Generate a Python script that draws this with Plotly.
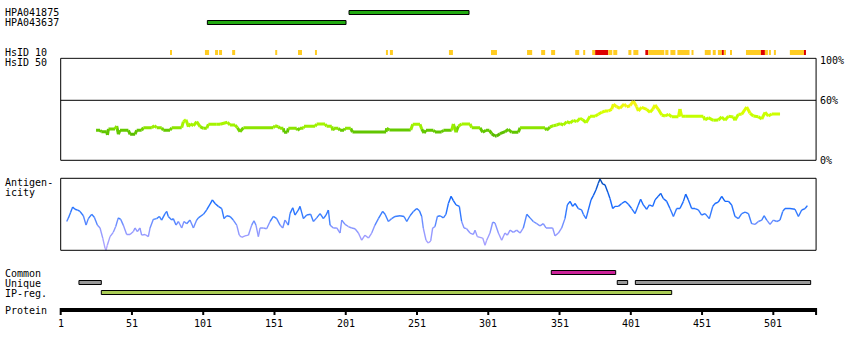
import plotly.graph_objects as go

W, H = 850, 350
PROTEIN_LENGTH = 531
X_RANGE = [-41.59, 554.8]  # residue units spanning the full canvas width
FONT = "DejaVu Sans Mono"

# ---------------- data ----------------
ab_names = ["HPA041875", "HPA043637"]
ab_start = [203.3, 103.9]
ab_end = [287.5, 201.2]

hs10_start = [77.7, 102.2, 109.3, 112.1, 121.3, 151.5, 167.5, 179.4, 229.2, 232.0,
              273.4, 302.9, 328.2, 338.1, 345.1, 362.0, 367.6, 373.9, 376.0, 385.2,
              388.7, 399.3, 402.8, 411.2, 413.3, 425.2, 428.8, 433.7, 443.6, 452.9,
              458.5, 462.1, 464.9, 466.3, 470.6, 481.8, 492.3, 495.1, 497.9, 501.4,
              512.6, 515.5, 522.5]
hs10_end = [79.1, 105.1, 111.4, 114.2, 123.4, 152.9, 170.3, 180.8, 230.6, 234.1,
            276.2, 307.1, 331.8, 340.9, 347.9, 364.8, 369.0, 376.0, 385.2, 388.0,
            391.5, 401.4, 406.3, 413.3, 424.5, 427.4, 432.3, 442.2, 445.0, 457.1,
            460.6, 464.9, 466.3, 467.8, 472.0, 492.3, 495.1, 497.2, 499.3, 502.8,
            515.5, 522.5, 523.9]
hs10_level = ["y", "y", "y", "y", "y", "y", "y", "y", "y", "y",
              "y", "y", "y", "y", "y", "y", "y", "y", "r", "y",
              "y", "y", "y", "r", "y", "y", "y", "y", "y", "y",
              "y", "y", "r", "y", "y", "y", "r", "y", "y", "y",
              "y", "y", "r"]

# identity (HsID 50) in percent
iden_res = [25.8, 28.6, 29.5, 33.3, 33.8, 34.5, 39.1, 40.3, 41.5, 42.6, 48.5, 49.7, 53.2,
            54.3, 57.8, 59.0, 64.9, 66.7, 68.4, 71.9, 73.0, 77.7, 78.9, 85.9, 87.1, 88.9,
            90.6, 92.2, 94.1, 96.4, 98.8, 101.1, 103.5, 104.6, 110.5, 112.8, 118.0, 119.8,
            123.3, 125.0, 126.8, 129.2, 150.2, 151.4, 153.7, 154.9, 157.2, 157.7, 160.0,
            160.7, 166.6, 167.1, 168.9, 171.3, 171.7, 179.5, 180.6, 186.5, 187.6, 191.2,
            191.9, 192.8, 195.8, 197.0, 199.8, 200.5, 204.5, 205.7, 229.3, 229.7, 231.6,
            246.6, 248.0, 253.1, 254.3, 255.9, 257.3, 262.5, 263.6, 268.3, 269.5, 275.3,
            276.5, 278.4, 280.0, 282.3, 288.2, 289.4, 295.2, 297.1, 299.4, 301.8, 303.4,
            305.7, 306.9, 309.2, 312.8, 315.1, 317.4, 322.1, 323.3, 340.8, 342.0, 344.3,
            346.7, 349.0, 351.4, 353.7, 356.0, 358.4, 360.7, 363.0, 365.4, 367.2, 369.6,
            372.4, 375.9, 378.2, 380.6, 382.9, 385.3, 387.6, 388.8, 391.1, 393.4, 396.3,
            398.1, 400.5, 402.8, 405.1, 406.3, 408.6, 412.2, 414.5, 416.4, 418.0, 420.3,
            422.7, 425.0, 427.4, 429.7, 434.4, 435.5, 436.7, 439.1, 451.9, 453.1, 455.4,
            458.9, 462.4, 464.8, 467.1, 469.5, 473.0, 474.1, 476.5, 478.8, 482.3, 484.7,
            487.0, 490.5, 492.9, 495.2, 497.5, 499.9, 505.7]
iden_val = [30, 30, 28.6, 28.6, 25.3, 31.3, 31.3, 34.3, 26, 30, 30, 26, 26,
            30, 30, 32.6, 32.6, 34.6, 32.6, 32.6, 30, 30, 32.6, 32.6, 38.6, 40.6,
            33.6, 36.6, 34.6, 38.6, 33.6, 32, 32, 36, 36, 36, 38, 35.3,
            35.3, 32.6, 28.6, 32.6, 32.6, 34.6, 33.6, 32, 32, 28, 28,
            32, 32, 30, 32, 32, 34, 34, 36.3, 36.3, 34, 34,
            30, 32, 32, 30, 30, 32, 32, 28.3, 28.3, 32, 30.3,
            30.3, 36, 36, 31.3, 27.3, 30, 30, 28.3, 28.3, 30, 30,
            36.3, 28, 34, 36.3, 36.3, 32.6, 32.6, 28, 30, 30, 26.6,
            24.3, 24.3, 26.6, 28.6, 31, 28, 28, 32.6, 32.6, 30, 33.3,
            34.6, 35.3, 36.6, 35.3, 38.6, 37.3, 40, 38.6, 42, 40.6, 37.6,
            44, 44, 46, 48, 49.3, 49.3, 51, 56, 53.6, 52, 56.3,
            53.6, 54.6, 59.3, 53.6, 49.3, 53, 51, 48, 51, 55.3, 51,
            45.3, 44.3, 46, 43.6, 43.6, 51.3, 44, 44, 44, 40.3, 42.6,
            40, 40.3, 43.3, 40, 44, 43.3, 40, 46, 46, 53.3, 47,
            44.3, 43.6, 41.3, 48, 44.3, 46.3, 46.3]

# antigenicity (relative score 0..1)
ag_res = [5.2, 6.4, 8.0, 9.4, 11.0, 12.7, 14.5, 16.9, 18.8, 20.4, 22.7, 24.6, 26.7, 28.6,
          30.5, 32.1, 32.8, 33.7, 35.6, 37.9, 39.6, 41.4, 43.1, 44.9, 47.3, 49.6, 52.0,
          53.1, 54.8, 56.6, 57.8, 60.2, 62.5, 63.7, 66.0, 68.3, 70.2, 71.8, 74.2, 75.4,
          76.5, 78.9, 80.0, 81.9, 83.6, 85.9, 87.5, 89.4, 91.7, 94.1, 96.4, 97.6, 101.1,
          103.4, 105.8, 107.4, 109.3, 111.6, 114.0, 115.6, 117.5, 119.8, 122.1, 124.5,
          126.3, 128.0, 130.3, 132.7, 135.0, 136.6, 138.0, 139.7, 140.9, 143.2, 145.5,
          147.9, 150.2, 152.6, 154.9, 156.8, 158.4, 160.7, 161.9, 163.8, 165.4, 167.8,
          168.9, 171.3, 173.6, 176.4, 178.3, 180.6, 183.0, 185.3, 187.2, 188.8, 190.0,
          192.3, 194.7, 197.0, 198.2, 200.5, 202.8, 205.2, 207.5, 209.9, 212.2, 214.5,
          216.9, 219.2, 221.5, 223.9, 226.9, 228.6, 230.9, 233.2, 235.6, 239.1, 241.9,
          243.8, 246.1, 248.5, 250.8, 252.7, 254.3, 255.4, 257.3, 258.9, 260.6, 262.0,
          263.6, 265.3, 267.1, 269.5, 271.3, 273.0, 274.9, 276.5, 278.4, 280.7, 282.3,
          284.0, 285.8, 288.2, 290.5, 291.7, 293.3, 295.2, 297.1, 298.7, 299.9, 302.2,
          304.1, 305.7, 308.1, 310.4, 312.7, 314.4, 316.3, 318.6, 320.9, 323.3, 325.6,
          328.0, 330.3, 332.6, 335.0, 337.3, 339.6, 341.5, 344.3, 346.2, 347.8, 350.2,
          352.5, 354.8, 356.5, 358.4, 360.2, 361.9, 364.2, 366.5, 367.7, 369.6, 371.2,
          373.1, 374.7, 376.6, 378.2, 379.4, 381.3, 382.9, 384.8, 386.4, 388.3, 389.9,
          392.3, 394.6, 397.0, 399.3, 401.6, 404.0, 406.3, 407.9, 409.8, 412.1, 414.0,
          416.4, 418.0, 420.3, 422.0, 423.8, 426.2, 428.5, 430.9, 433.2, 435.5, 437.9,
          439.5, 441.4, 443.7, 446.1, 448.4, 450.7, 453.1, 456.1, 458.5, 460.1, 462.4,
          464.8, 467.1, 469.5, 471.8, 474.1, 476.5, 478.8, 481.2, 483.5, 485.8, 488.2,
          490.5, 492.9, 494.5, 496.4, 498.7, 501.0, 503.4, 505.7, 507.6, 509.2, 512.7,
          516.2, 518.6, 520.9, 523.3, 524.9]
ag_val = [0.40, 0.45, 0.53, 0.60, 0.57, 0.56, 0.54, 0.48, 0.35, 0.44, 0.50, 0.46, 0.35, 0.31,
          0.17, 0.03, 0.00, 0.07, 0.19, 0.25, 0.33, 0.45, 0.43, 0.35, 0.22, 0.22, 0.26,
          0.31, 0.26, 0.31, 0.21, 0.22, 0.19, 0.31, 0.43, 0.44, 0.47, 0.42, 0.51, 0.54,
          0.47, 0.42, 0.44, 0.35, 0.40, 0.31, 0.40, 0.37, 0.42, 0.31, 0.42, 0.45, 0.50,
          0.56, 0.64, 0.70, 0.65, 0.61, 0.58, 0.44, 0.48, 0.47, 0.42, 0.35,
          0.21, 0.18, 0.20, 0.21, 0.35, 0.41, 0.35, 0.19, 0.31, 0.31, 0.30,
          0.40, 0.47, 0.44, 0.35, 0.31, 0.42, 0.35, 0.51, 0.59, 0.49, 0.56,
          0.61, 0.44, 0.49, 0.50, 0.40, 0.45, 0.51, 0.44, 0.49, 0.56, 0.35,
          0.31, 0.31, 0.24, 0.42, 0.36, 0.33, 0.31, 0.30, 0.24, 0.14, 0.21,
          0.17, 0.24, 0.35, 0.44, 0.54, 0.50, 0.40, 0.44, 0.47, 0.48, 0.47,
          0.40, 0.48, 0.54, 0.58, 0.55, 0.47, 0.31, 0.14, 0.10, 0.13, 0.31,
          0.33, 0.47, 0.48, 0.45, 0.50, 0.65, 0.75, 0.69, 0.63, 0.61, 0.40,
          0.31, 0.30, 0.24, 0.22, 0.28, 0.19, 0.18, 0.17, 0.07, 0.14, 0.24,
          0.39, 0.38, 0.24, 0.14, 0.24, 0.21, 0.28, 0.25, 0.28, 0.24, 0.31,
          0.50, 0.45, 0.40, 0.37, 0.34, 0.37, 0.31, 0.31, 0.31, 0.20, 0.24,
          0.31, 0.44, 0.63, 0.68, 0.61, 0.65, 0.58, 0.56, 0.50, 0.44, 0.56,
          0.70, 0.76, 0.84, 0.93, 0.99, 0.92, 0.91, 0.81, 0.72, 0.58, 0.61,
          0.61, 0.65, 0.68, 0.64, 0.58, 0.51, 0.63, 0.71, 0.63, 0.57, 0.63,
          0.61, 0.70, 0.75, 0.79, 0.72, 0.68, 0.58, 0.47, 0.58, 0.58, 0.68,
          0.78, 0.70, 0.58, 0.58, 0.56, 0.49, 0.51, 0.44, 0.61, 0.65, 0.67,
          0.75, 0.68, 0.68, 0.63, 0.47, 0.44, 0.51, 0.53, 0.51, 0.37, 0.36,
          0.40, 0.42, 0.48, 0.42, 0.36, 0.42, 0.40, 0.42, 0.54, 0.58, 0.58,
          0.57, 0.47, 0.56, 0.58, 0.62]

common_start = [345.2]
common_end = [390.4]
unique_start = [13.8, 391.5, 404.2]
unique_end = [29.5, 398.8, 527.2]
ipreg_start = [29.5]
ipreg_end = [429.7]

tick_vals = [1, 51, 101, 151, 201, 251, 301, 351, 401, 451, 501]
tick_text = [str(v) for v in tick_vals]

row_labels = [("HPA041875", 12.5), ("HPA043637", 22.5), ("HsID 10", 52.5), ("HsID 50", 62.5),
              ("Antigen-", 182.0), ("icity", 192.5), ("Common", 273.0), ("Unique", 283.0),
              ("IP-reg.", 293.0), ("Protein", 310.0)]
pct_labels = [("100%", 100), ("60%", 60), ("0%", 0)]

# ---------------- colours ----------------
IDEN_STOPS = [(24, "#55b400"), (30.5, "#66cc00"), (33, "#99ee00"), (42, "#bbff00"),
              (50, "#ddff00"), (60, "#ffee22")]
AG_STOPS = [(0.0, "#b4a8ff"), (0.2, "#9c9cff"), (0.35, "#7f93ff"), (0.45, "#3d80ff"),
            (0.7, "#1468ff"), (1.0, "#0048b0")]


def hex_rgb(h):
    h = h.lstrip("#")
    return tuple(int(h[i:i + 2], 16) for i in (0, 2, 4))


def color_at(stops, v):
    if v <= stops[0][0]:
        return stops[0][1]
    for (v0, c0), (v1, c1) in zip(stops[:-1], stops[1:]):
        if v <= v1:
            t = (v - v0) / (v1 - v0)
            a, b = hex_rgb(c0), hex_rgb(c1)
            return "rgb(%d,%d,%d)" % tuple(round(a[k] + (b[k] - a[k]) * t) for k in range(3))
    return stops[-1][1]


def colored_traces(xs, ys, stops, yaxis, width, nbins=28):
    lo, hi = stops[0][0], stops[-1][0]
    groups = {}
    for i in range(len(xs) - 1):
        v = (ys[i] + ys[i + 1]) / 2
        b = int(min(nbins - 1, max(0, (v - lo) / (hi - lo) * nbins)))
        gx, gy = groups.setdefault(b, ([], []))
        gx += [xs[i], xs[i + 1], None]
        gy += [ys[i], ys[i + 1], None]
    out = []
    for b, (gx, gy) in sorted(groups.items()):
        v = lo + (b + 0.5) / nbins * (hi - lo)
        out.append(go.Scatter(x=gx, y=gy, mode="lines", yaxis=yaxis,
                              line=dict(color=color_at(stops, v), width=width),
                              hoverinfo="skip", showlegend=False))
    return out


fig = go.Figure()
for tr in colored_traces(iden_res, iden_val, IDEN_STOPS, "y2", 3):
    fig.add_trace(tr)
for tr in colored_traces(ag_res, ag_val, AG_STOPS, "y3", 1.4):
    fig.add_trace(tr)

shapes = []


def rect(x0, x1, y0, y1, fill, line=True, yref="y"):
    shapes.append(dict(type="rect", xref="x", yref=yref, x0=x0, x1=x1, y0=y0, y1=y1,
                       fillcolor=fill, line=dict(color="black", width=1 if line else 0),
                       layer="above"))


# antibody bars
ab_rows = [10.5, 20.5]
for s, e, y in zip(ab_start, ab_end, ab_rows):
    rect(s, e, y, y + 4, "#22aa11")

# HsID 10 ticks
for s, e, lv in zip(hs10_start, hs10_end, hs10_level):
    shapes.append(dict(type="rect", xref="x", yref="y", x0=s, x1=e, y0=50, y1=55,
                       fillcolor="#ffcc22" if lv == "y" else "#dd0000",
                       line=dict(width=0), layer="below"))

# identity box and 60% line
rect(1, PROTEIN_LENGTH, 0, 102, "rgba(0,0,0,0)", yref="y2")
shapes.append(dict(type="line", xref="x", yref="y2", x0=1, x1=PROTEIN_LENGTH, y0=60, y1=60,
                   line=dict(color="black", width=1), layer="below"))
# antigenicity box
rect(1, PROTEIN_LENGTH, 0, 1, "rgba(0,0,0,0)", yref="y3")

# feature bars
for s, e in zip(common_start, common_end):
    rect(s, e, 270.5, 274.5, "#cc2299")
for s, e in zip(unique_start, unique_end):
    rect(s, e, 280.5, 284.5, "#999999")
for s, e in zip(ipreg_start, ipreg_end):
    rect(s, e, 290.5, 294.5, "#aacc55")

# protein axis
shapes.append(dict(type="rect", xref="x", yref="y", x0=1, x1=PROTEIN_LENGTH, y0=308, y1=312,
                   fillcolor="black", line=dict(width=0)))
for t in tick_vals + [PROTEIN_LENGTH]:
    shapes.append(dict(type="line", xref="x", yref="y", x0=t, x1=t, y0=308, y1=315,
                       line=dict(color="black", width=2)))

annotations = []
for txt, y in row_labels:
    annotations.append(dict(text=txt, xref="paper", yref="y", x=3 / W, y=y, xanchor="left",
                            yanchor="middle", showarrow=False,
                            font=dict(family=FONT, size=10, color="black")))
for txt, v in pct_labels:
    annotations.append(dict(text=txt, xref="paper", yref="y2", x=818 / W, y=v, xanchor="left",
                            yanchor="middle", showarrow=False,
                            font=dict(family=FONT, size=10, color="black")))
for t, txt in zip(tick_vals, tick_text):
    annotations.append(dict(text=txt, xref="x", yref="y", x=t, y=323, xanchor="center",
                            yanchor="middle", showarrow=False,
                            font=dict(family=FONT, size=10, color="black")))

fig.update_layout(
    width=W, height=H, margin=dict(l=0, r=0, t=0, b=0),
    paper_bgcolor="white", plot_bgcolor="white",
    xaxis=dict(range=X_RANGE, visible=False, fixedrange=True, domain=[0, 1]),
    yaxis=dict(range=[H, 0], visible=False, domain=[0, 1]),
    yaxis2=dict(range=[-3, 103], visible=False, domain=[1 - 163.3 / H, 1 - 57.3 / H], anchor="x"),
    yaxis3=dict(range=[-0.05, 1.05], visible=False, domain=[1 - 253.9 / H, 1 - 174.7 / H], anchor="x"),
    shapes=shapes, annotations=annotations, showlegend=False,
)

fig.write_html("out.html", config={"displayModeBar": False})
